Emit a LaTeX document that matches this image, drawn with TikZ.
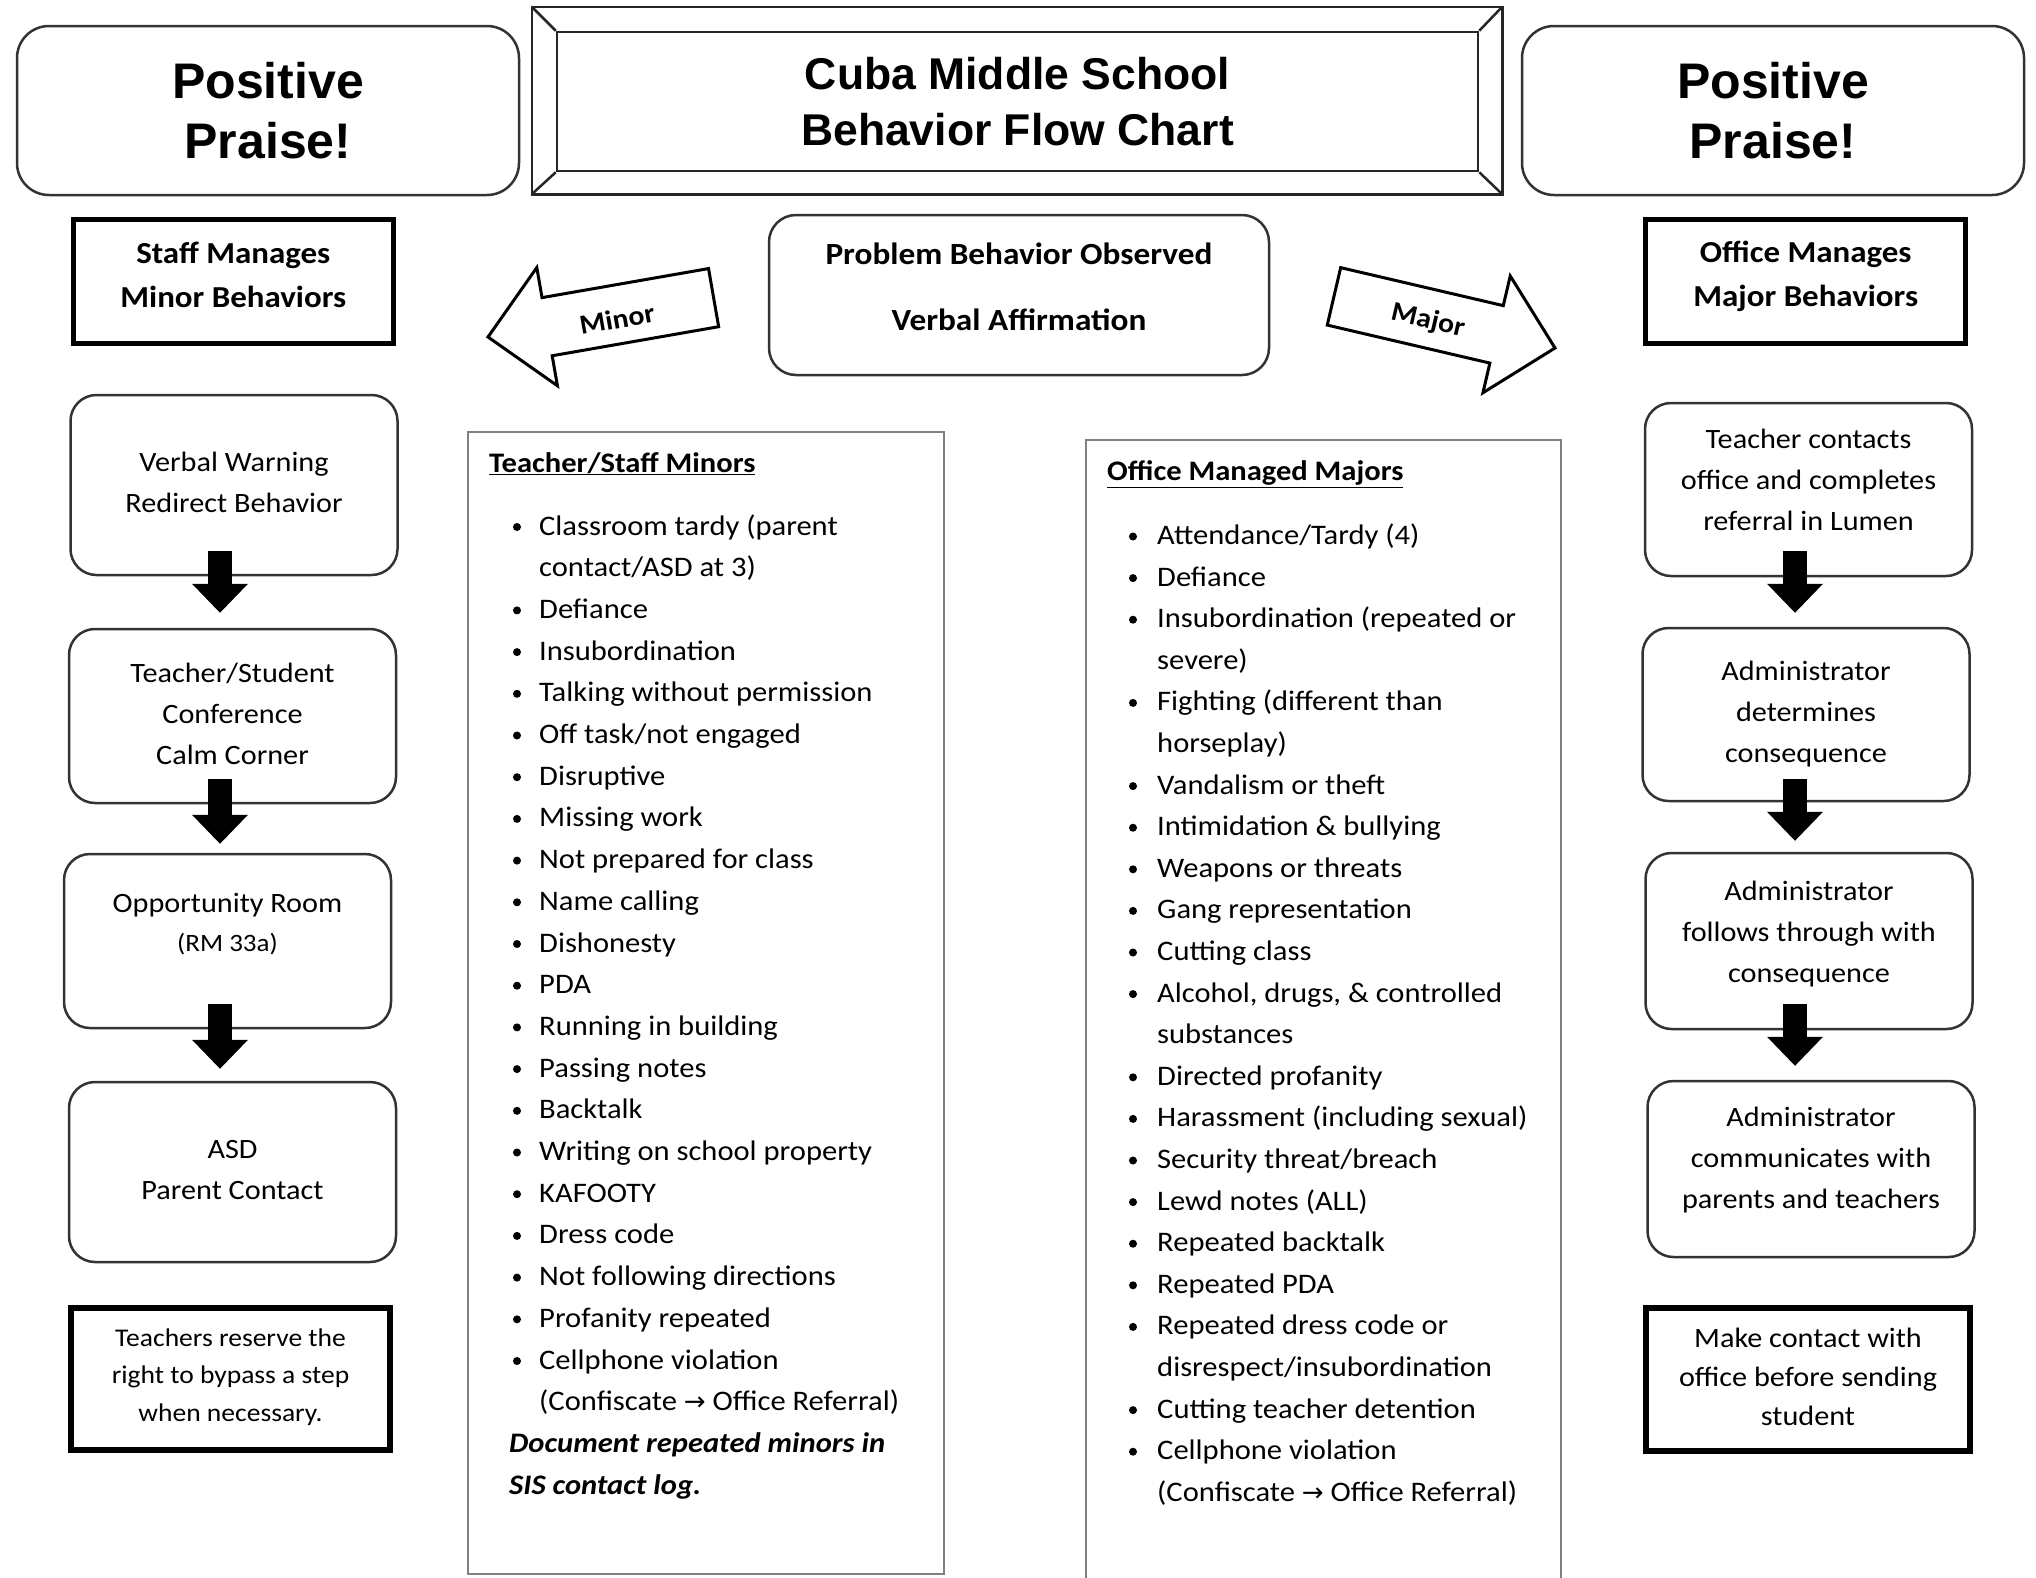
\documentclass[tikz,border=0pt]{standalone}
\usepackage{fontspec}
\setmainfont{Carlito}[FakeStretch=1.08]
\newfontfamily\headfont{Liberation Sans}
\newfontfamily\symfont{DejaVu Sans}
\usetikzlibrary{arrows.meta,calc}
\newcommand\strA{\rule[-8pt]{0pt}{30pt}}
\newcommand\strD[1]{\rule[-#1pt]{0pt}{\dimexpr22pt+#1pt\relax}}
\newcommand\strH{\rule{0pt}{37pt}}
\newcommand\strT{\rule{0pt}{33pt}}
\newcommand\rarr{{\symfont\fontsize{26}{30}\selectfont →}}
\begin{document}
\begin{tikzpicture}[x=1pt,y=-1pt,
  pp/.style={draw=black!80, line width=2.5pt, rounded corners=32pt, minimum width=502pt, minimum height=169pt, inner sep=0pt, align=center, font={\headfont\bfseries\fontsize{50}{60}\selectfont}},
  ttl/.style={draw=black!85, line width=2.5pt, minimum width=921pt, minimum height=139pt, inner sep=0pt, align=center, font={\headfont\bfseries\fontsize{44.5}{56}\selectfont}},
  hdr/.style={draw=black, line width=5pt, minimum width=320pt, minimum height=124pt, inner sep=0pt, align=center, font={\bfseries\fontsize{30.5}{44}\selectfont}},
  prob/.style={draw=black!80, line width=2.5pt, rounded corners=27pt, minimum width=500pt, minimum height=160pt, inner sep=0pt, align=center, font={\bfseries\fontsize{30.8}{66}\selectfont}},
  flowbox/.style={draw=black!80, line width=2.5pt, rounded corners=26pt, minimum width=327pt, inner sep=0pt, align=center, font={\fontsize{28}{41}\selectfont}},
  notebox/.style={draw=black, line width=6pt, inner sep=0pt, align=center},
  listbox/.style={draw=black!50, line width=2pt, inner sep=0pt},
  li/.style={anchor=base west, inner sep=0pt, font={\fontsize{28.3}{34}\selectfont}},
  bigarrow/.style={draw=black, line width=3pt, fill=white, line join=miter},
  alabel/.style={inner sep=0pt, font={\bfseries\fontsize{27.5}{30}\selectfont}},
  blk/.style={draw=black, line width=24pt, -{Triangle[width=56pt,length=29pt,line width=0pt]}}
]
\useasboundingbox (0,0) rectangle (2036,1577);
\fill[white] (0,0) rectangle (2036,1577);

% top row
\node[pp] (ppl) at (268,110.5) {\strH Positive\\\strH Praise!};
\node[pp] (ppr) at (1773,110.5) {\strH Positive\\\strH Praise!};
\node[ttl] (title) at (1017.5,101.5) {\strT Cuba Middle School\\\strT Behavior Flow Chart};
\draw[line width=2.5pt, draw=black!85] ($(title.north west)+(-24,-24)$) coordinate (tnw) rectangle ($(title.south east)+(23,22)$) coordinate (tse);
\draw[line width=2.5pt, draw=black!85] (title.north west) -- (tnw)
  (title.south east) -- (tse)
  (title.north east) -- (tnw -| tse)
  (title.south west) -- (tse -| tnw);

% header row
\node[hdr] (staff) at (233.25,281.5) {\strA Staff Manages\\\strD{15}Minor Behaviors};
\node[hdr] (office) at (1805.75,281) {\strA Office Manages\\\strD{15}Major Behaviors};
\node[prob] (prob) at (1019,295) {\strA Problem Behavior Observed\\\strD{18}Verbal Affirmation};

% Minor / Major block arrows
\begin{scope}[shift={(488,337)}, rotate=9.9]
  \draw[bigarrow] (0,0) -- (60,-60) -- (60,-29.5) -- (229,-29.5) -- (229,29.5) -- (60,29.5) -- (60,60) -- cycle;
\end{scope}
\node[alabel, rotate=9.9] (minorlab) at (617,319) {Minor};
\begin{scope}[shift={(1555,348)}, rotate=166.85]
  \draw[bigarrow] (0,0) -- (60,-60) -- (60,-29.5) -- (227,-29.5) -- (227,29.5) -- (60,29.5) -- (60,60) -- cycle;
\end{scope}
\node[alabel, rotate=-13.15] (majorlab) at (1428,321) {Major};

% left flow
\node[flowbox, minimum height=180pt] (v1) at (234,485) {\strA Verbal Warning\\\strA Redirect Behavior};
\node[flowbox, minimum height=174pt] (v2) at (232.5,716) {\strA Teacher/Student\\Conference\\\strA Calm Corner};
\node[flowbox, minimum height=174pt, font={\fontsize{28}{39}\selectfont}] (v3) at (227.5,941) {\strA Opportunity Room\\{\fontsize{25}{39}\selectfont\strD{40}(RM 33a)}};
\node[flowbox, minimum height=180pt] (v4) at (232.5,1172) {\strA ASD\\\strA Parent Contact};
\coordinate (lax) at (220,0);
\draw[blk] ($(v1.south -| lax)+(0,-25)$) -- ($(v2.north -| lax)+(0,-15)$);
\draw[blk] ($(v2.south -| lax)+(0,-25)$) -- ($(v3.north -| lax)+(0,-9)$);
\draw[blk] ($(v3.south -| lax)+(0,-25)$) -- ($(v4.north -| lax)+(0,-12)$);

% right flow
\node[flowbox, minimum height=173pt] (r1) at (1808.5,489.5) {\strA Teacher contacts\\office and completes\\\strD{22}referral in Lumen};
\node[flowbox, minimum height=173pt] (r2) at (1806,714.5) {\strA Administrator\\determines\\\strA consequence};
\node[flowbox, minimum height=176pt] (r3) at (1809,941) {\strA Administrator\\follows through with\\\strD{21}consequence};
\node[flowbox, minimum height=176pt] (r4) at (1811,1169) {\strA Administrator\\communicates with\\\strD{25}parents and teachers};
\coordinate (rax) at (1795,0);
\draw[blk] ($(r1.south -| rax)+(0,-26)$) -- ($(r2.north -| rax)+(0,-14)$);
\draw[blk] ($(r2.south -| rax)+(0,-23)$) -- ($(r3.north -| rax)+(0,-11)$);
\draw[blk] ($(r3.south -| rax)+(0,-26)$) -- ($(r4.north -| rax)+(0,-14)$);

% notes
\node[notebox, minimum width=319pt, minimum height=142pt, font={\fontsize{25.5}{37.5}\selectfont}] (lnote) at (230.5,1379) {\strA Teachers reserve the\\right to bypass a step\\\strD{13}when necessary.};
\node[notebox, minimum width=324pt, minimum height=143pt, font={\fontsize{28}{39}\selectfont}] (rnote) at (1808,1379.5) {\strA Make contact with\\office before sending\\\strA student};

% list boxes
\node[listbox, minimum width=476pt, minimum height=1142pt] (minors) at (706,1003) {};
\node[listbox, minimum width=475pt, minimum height=1160pt] (majors) at (1323.5,1020) {};

% minors list
\node[li, font={\bfseries\fontsize{28.3}{34}\selectfont}] (mih) at (489,472) {\underline{Teacher/Staff Minors}};
\foreach \itm [count=\i from 0] in {{Classroom tardy (parent},{contact/ASD at 3)},Defiance,Insubordination,Talking without permission,{Off task/not engaged},Disruptive,Missing work,Not prepared for class,Name calling,Dishonesty,PDA,Running in building,Passing notes,Backtalk,Writing on school property,KAFOOTY,Dress code,Not following directions,Profanity repeated,Cellphone violation,{(Confiscate \rarr{} Office Referral)}}
  \node[li] (mi\i) at (539,{535+41.7*\i}) {\itm};
\foreach \k in {0,2,3,...,20}
  \fill (517,{535+41.7*\k-8}) circle (4pt);
\node[li, font={\bfseries\itshape\fontsize{28.3}{34}\selectfont}] (doc1) at (509,1452.4) {Document repeated minors in};
\node[li, font={\bfseries\itshape\fontsize{28.3}{34}\selectfont}] (doc2) at (509,1494.1) {SIS contact log.};

% majors list
\node[li, font={\bfseries\fontsize{28.3}{34}\selectfont}] (mah) at (1107,480.5) {\underline{Office Managed Majors}};
\foreach \itm [count=\i from 0] in {{Attendance/Tardy (4)},Defiance,{Insubordination (repeated or},{severe)},{Fighting (different than},{horseplay)},Vandalism or theft,{Intimidation \& bullying},Weapons or threats,Gang representation,Cutting class,{Alcohol, drugs, \& controlled},substances,Directed profanity,{Harassment (including sexual)},{Security threat/breach},{Lewd notes (ALL)},Repeated backtalk,Repeated PDA,Repeated dress code or,{disrespect/insubordination},Cutting teacher detention,Cellphone violation,{(Confiscate \rarr{} Office Referral)}}
  \node[li] (ma\i) at (1157,{544.5+41.6*\i}) {\itm};
\foreach \k in {0,1,2,4,6,7,8,9,10,11,13,14,15,16,17,18,19,21,22}
  \fill (1133,{544.5+41.6*\k-8}) circle (4pt);
\end{tikzpicture}
\end{document}
